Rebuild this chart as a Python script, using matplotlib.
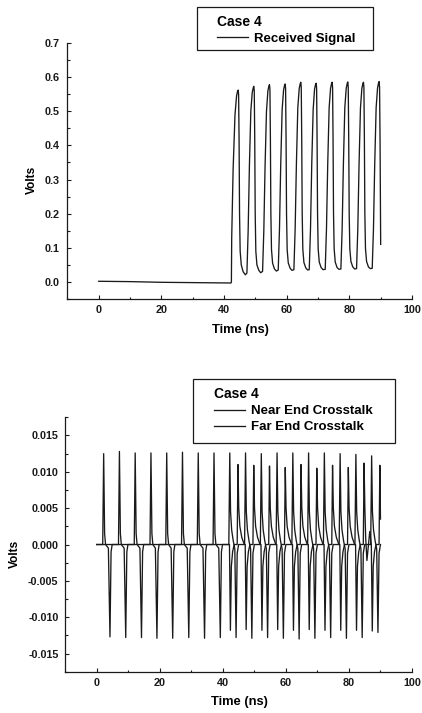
import matplotlib
matplotlib.use("Agg")
import matplotlib.pyplot as plt
from matplotlib.patches import Rectangle
from matplotlib.ticker import MultipleLocator, FormatStrFormatter

plt.rcParams['font.family'] = ['Liberation Sans', 'DejaVu Sans']
plt.rcParams['font.weight'] = 'bold'

# ---- received signal (top panel), vertices ----
rx_t = [0, 10, 20, 30, 42.2,
        42.35, 42.45, 42.9, 43.5, 44.0, 44.3, 44.5, 44.65, 44.8, 44.95, 45.15, 45.5, 46.1, 46.8,
        47.3, 47.7, 48.1, 48.55, 49.0, 49.3, 49.5, 49.65, 49.8, 49.95, 50.15, 50.5, 51.1, 51.7,
        52.3, 52.7, 53.1, 53.55, 54.0, 54.3, 54.5, 54.65, 54.8, 54.95, 55.15, 55.5, 56.1, 56.7,
        57.3, 57.7, 58.1, 58.55, 59.0, 59.3, 59.5, 59.65, 59.8, 59.95, 60.15, 60.5, 61.1, 61.7,
        62.3, 62.7, 63.1, 63.55, 64.0, 64.3, 64.5, 64.65, 64.8, 64.95, 65.15, 65.5, 66.1, 66.7,
        67.2, 67.6, 68.0, 68.45, 68.9, 69.2, 69.4, 69.55, 69.7, 69.85, 70.05, 70.4, 71.0, 71.6,
        72.3, 72.7, 73.1, 73.55, 74.0, 74.3, 74.5, 74.65, 74.8, 74.95, 75.15, 75.5, 76.1, 76.7,
        77.3, 77.7, 78.1, 78.55, 79.0, 79.3, 79.5, 79.65, 79.8, 79.95, 80.15, 80.5, 81.1, 81.7,
        82.3, 82.7, 83.1, 83.55, 84.0, 84.3, 84.5, 84.65, 84.8, 84.95, 85.15, 85.5, 86.1, 86.7,
        87.3, 87.7, 88.1, 88.55, 89.0, 89.3, 89.5, 89.65, 89.8, 89.9, 90.0]
rx_v = [0.002, 0.001, -0.001, -0.002, -0.003,
        0.0, 0.13, 0.33, 0.49, 0.545, 0.558, 0.562, 0.55, 0.42, 0.2, 0.09, 0.05, 0.03, 0.021,
        0.026, 0.15, 0.34, 0.5, 0.555, 0.568, 0.573, 0.56, 0.42, 0.2, 0.09, 0.05, 0.034, 0.027,
        0.031, 0.15, 0.34, 0.5, 0.56, 0.573, 0.578, 0.565, 0.42, 0.2, 0.095, 0.055, 0.038, 0.032,
        0.035, 0.155, 0.345, 0.505, 0.562, 0.575, 0.58, 0.567, 0.42, 0.2, 0.095, 0.056, 0.04, 0.034,
        0.036, 0.155, 0.345, 0.51, 0.567, 0.58, 0.585, 0.57, 0.42, 0.2, 0.096, 0.057, 0.041, 0.035,
        0.036, 0.155, 0.345, 0.505, 0.565, 0.578, 0.582, 0.568, 0.42, 0.2, 0.097, 0.058, 0.042, 0.036,
        0.037, 0.155, 0.345, 0.51, 0.567, 0.58, 0.585, 0.57, 0.42, 0.2, 0.097, 0.058, 0.042, 0.037,
        0.038, 0.155, 0.345, 0.51, 0.567, 0.581, 0.586, 0.571, 0.42, 0.2, 0.098, 0.06, 0.044, 0.038,
        0.039, 0.155, 0.345, 0.51, 0.567, 0.58, 0.585, 0.57, 0.42, 0.2, 0.098, 0.06, 0.044, 0.039,
        0.04, 0.155, 0.345, 0.51, 0.568, 0.582, 0.587, 0.57, 0.42, 0.25, 0.11]

# ---- near end crosstalk ----
next_t = [0, 1.9, 2.2, 2.5, 2.8, 3.7, 4.2, 4.55, 4.9,
          6.9, 7.2, 7.5, 7.8, 8.7, 9.2, 9.55, 9.9,
          11.9, 12.2, 12.5, 12.8, 13.7, 14.2, 14.55, 14.9,
          16.9, 17.2, 17.5, 17.8, 18.6, 19.1, 19.45, 19.8,
          21.9, 22.2, 22.5, 22.8, 23.6, 24.1, 24.45, 24.8,
          26.9, 27.2, 27.5, 27.8, 28.7, 29.2, 29.55, 29.9,
          31.9, 32.2, 32.5, 32.8, 33.7, 34.2, 34.55, 34.9,
          36.9, 37.2, 37.5, 37.8, 38.7, 39.2, 39.55, 39.9,
          41.9, 42.2, 42.45, 42.8, 43.3, 43.8, 44.2, 44.55, 45.0,
          46.9, 47.2, 47.45, 47.8, 48.3, 48.8, 49.2, 49.55, 50.0,
          51.9, 52.2, 52.45, 52.8, 53.3, 53.8, 54.2, 54.55, 55.0,
          56.9, 57.2, 57.45, 57.8, 58.3, 58.8, 59.2, 59.55, 60.0,
          61.9, 62.2, 62.45, 62.8, 63.3, 63.8, 64.2, 64.55, 65.0,
          66.9, 67.2, 67.45, 67.8, 68.3, 68.8, 69.2, 69.55, 70.0,
          71.9, 72.2, 72.45, 72.8, 73.3, 73.8, 74.2, 74.55, 75.0,
          76.9, 77.2, 77.45, 77.8, 78.3, 78.8, 79.2, 79.55, 80.0,
          81.9, 82.2, 82.45, 82.8, 83.3, 83.8, 84.2, 84.55, 85.0,
          86.9, 87.2, 87.45, 87.8, 88.3, 88.8, 89.2, 89.55, 90.0]
next_v = [0, 0, 0.0125, 0.0015, 0, -0.0005, -0.0127, -0.001, 0,
          0, 0.0128, 0.0015, 0, -0.0005, -0.0128, -0.001, 0,
          0, 0.0126, 0.0015, 0, -0.0005, -0.0128, -0.001, 0,
          0, 0.0126, 0.0015, 0, -0.0005, -0.0129, -0.001, 0,
          0, 0.0126, 0.0015, 0, -0.0005, -0.0129, -0.001, 0,
          0, 0.0127, 0.0015, 0, -0.0005, -0.0128, -0.001, 0,
          0, 0.0126, 0.0015, 0, -0.0005, -0.0129, -0.001, 0,
          0, 0.0126, 0.0015, 0, -0.0005, -0.0128, -0.001, 0,
          0, 0.0126, 0.0045, 0.002, 0.0005, -0.0006, -0.0128, -0.0012, 0,
          0, 0.0126, 0.0045, 0.002, 0.0005, -0.0006, -0.0129, -0.0012, 0,
          0, 0.0125, 0.0045, 0.002, 0.0005, -0.0006, -0.0128, -0.0012, 0,
          0, 0.0126, 0.0045, 0.002, 0.0005, -0.0006, -0.0129, -0.0012, 0,
          0, 0.0126, 0.0045, 0.002, 0.0005, -0.0006, -0.0130, -0.0012, 0,
          0, 0.0126, 0.0045, 0.002, 0.0005, -0.0006, -0.0129, -0.0012, 0,
          0, 0.0126, 0.0045, 0.002, 0.0005, -0.0006, -0.0128, -0.0012, 0,
          0, 0.0125, 0.0045, 0.002, 0.0005, -0.0006, -0.0129, -0.0012, 0,
          0, 0.0124, 0.0045, 0.002, 0.0005, -0.0006, -0.0128, -0.0012, 0,
          0, 0.0122, 0.0045, 0.002, 0.0005, -0.0006, -0.0121, -0.0012, 0]

# ---- far end crosstalk (arrives after ~42 ns) ----
fext_t = [0,
          42.1, 42.4, 42.7, 43.1, 43.6, 44.55, 44.8, 45.05, 45.4, 46.0, 46.8,
          47.1, 47.4, 47.7, 48.1, 48.6, 49.55, 49.8, 50.05, 50.4, 51.0, 51.8,
          52.1, 52.4, 52.7, 53.1, 53.6, 54.55, 54.8, 55.05, 55.4, 56.0, 56.8,
          57.1, 57.4, 57.7, 58.1, 58.6, 59.55, 59.8, 60.05, 60.4, 61.0, 61.8,
          62.1, 62.4, 62.7, 63.1, 63.6, 64.55, 64.8, 65.05, 65.4, 66.0, 66.8,
          67.1, 67.4, 67.7, 68.1, 68.6, 69.55, 69.8, 70.05, 70.4, 71.0, 71.8,
          72.1, 72.4, 72.7, 73.1, 73.6, 74.55, 74.8, 75.05, 75.4, 76.0, 76.8,
          77.1, 77.4, 77.7, 78.1, 78.6, 79.55, 79.8, 80.05, 80.4, 81.0, 81.8,
          82.1, 82.4, 82.7, 83.1, 83.6, 84.55, 84.8, 85.05, 85.3, 85.7, 86.2, 86.6,
          87.1, 87.4, 87.7, 88.1, 88.6, 89.55, 89.8, 90.0]
fext_v = [0,
          0, -0.0118, -0.003, -0.001, 0, 0, 0.0110, 0.005, 0.0025, 0.001, 0,
          0, -0.0117, -0.003, -0.001, 0, 0, 0.0109, 0.005, 0.0025, 0.001, 0,
          0, -0.0118, -0.003, -0.001, 0, 0, 0.0108, 0.005, 0.0025, 0.001, 0,
          0, -0.0117, -0.003, -0.001, 0, 0, 0.0106, 0.005, 0.0025, 0.001, 0,
          0, -0.0118, -0.003, -0.001, 0, 0, 0.0110, 0.005, 0.0025, 0.001, 0,
          0, -0.0117, -0.003, -0.001, 0, 0, 0.0105, 0.005, 0.0025, 0.001, 0,
          0, -0.0118, -0.003, -0.001, 0, 0, 0.0109, 0.005, 0.0025, 0.001, 0,
          0, -0.0118, -0.003, -0.001, 0, 0, 0.0106, 0.005, 0.0025, 0.001, 0,
          0, -0.0118, -0.003, -0.001, 0, 0, 0.0112, 0.005, 0.001, -0.0022, 0.0, 0.0018,
          0, -0.0119, -0.003, -0.001, 0, 0, 0.0109, 0.0035]

LC = "#1a1a1a"
LW = 0.95

fig = plt.figure(figsize=(4.22, 7.13), dpi=100)
ax1 = fig.add_axes([0.1597, 0.5806, 0.8166, 0.3591])
ax2 = fig.add_axes([0.1545, 0.0579, 0.8218, 0.3568])


def style(ax, ypad):
    ax.spines['top'].set_visible(False)
    ax.spines['right'].set_visible(False)
    for s in ('left', 'bottom'):
        ax.spines[s].set_linewidth(0.9)
        ax.spines[s].set_color(LC)
    ax.set_xlim(-10, 100)
    ax.xaxis.set_major_locator(MultipleLocator(20))
    ax.xaxis.set_minor_locator(MultipleLocator(10))
    ax.tick_params(which='both', direction='in', width=0.8, colors=LC, labelsize=7.8)
    ax.tick_params(which='major', length=3.2)
    ax.tick_params(which='minor', length=1.8)
    ax.tick_params(axis='x', which='major', pad=4.5)
    ax.tick_params(axis='y', which='major', pad=ypad)
    for lab in ax.get_xticklabels() + ax.get_yticklabels():
        lab.set_fontweight('bold')


# top panel
line_rx, = ax1.plot(rx_t, rx_v, color=LC, lw=LW)
style(ax1, 5.5)
ax1.set_ylim(-0.05, 0.7)
ax1.yaxis.set_major_locator(MultipleLocator(0.1))
ax1.yaxis.set_minor_locator(MultipleLocator(0.05))
ax1.yaxis.set_major_formatter(FormatStrFormatter('%.1f'))
ax1.set_xlabel('Time (ns)', fontsize=9.3, fontweight='bold')
ax1.set_ylabel('Volts', fontsize=8.6, fontweight='bold')
ax1.xaxis.set_label_coords(0.502, -0.096)
ax1.yaxis.set_label_coords(-0.0845, 0.465)

# bottom panel
line_n, = ax2.plot(next_t, next_v, color=LC, lw=LW)
line_f, = ax2.plot(fext_t, fext_v, color=LC, lw=LW)
style(ax2, 4.8)
ax2.set_ylim(-0.0175, 0.0175)
ax2.yaxis.set_major_locator(MultipleLocator(0.005))
ax2.yaxis.set_minor_locator(MultipleLocator(0.0025))
ax2.yaxis.set_major_formatter(FormatStrFormatter('%.3f'))
ax2.set_xlabel('Time (ns)', fontsize=9.3, fontweight='bold')
ax2.set_ylabel('Volts', fontsize=8.6, fontweight='bold')
ax2.xaxis.set_label_coords(0.501, -0.0936)
ax2.yaxis.set_label_coords(-0.128, 0.463)

legend_kw = dict(frameon=False, loc='upper left', borderpad=0, borderaxespad=0,
                 handlelength=2.35, handletextpad=0.45, labelspacing=0.3,
                 alignment='left', bbox_transform=fig.transFigure,
                 prop={'size': 9.5, 'weight': 'bold'},
                 title_fontproperties={'size': 10, 'weight': 'bold'})

ax1.legend([line_rx], ['Received Signal'], title='Case 4',
           bbox_to_anchor=(0.5135, 0.9794), **legend_kw)
fig.patches.append(Rectangle((0.4675, 0.9299), 0.4156, 0.0599, transform=fig.transFigure,
                             fill=False, edgecolor=LC, lw=0.9))

ax2.legend([line_n, line_f], ['Near End Crosstalk', 'Far End Crosstalk'], title='Case 4',
           bbox_to_anchor=(0.5078, 0.4572), **legend_kw)
fig.patches.append(Rectangle((0.458, 0.3787), 0.478, 0.0898, transform=fig.transFigure,
                             fill=False, edgecolor=LC, lw=0.9))

plt.savefig("out.png", dpi=100)
